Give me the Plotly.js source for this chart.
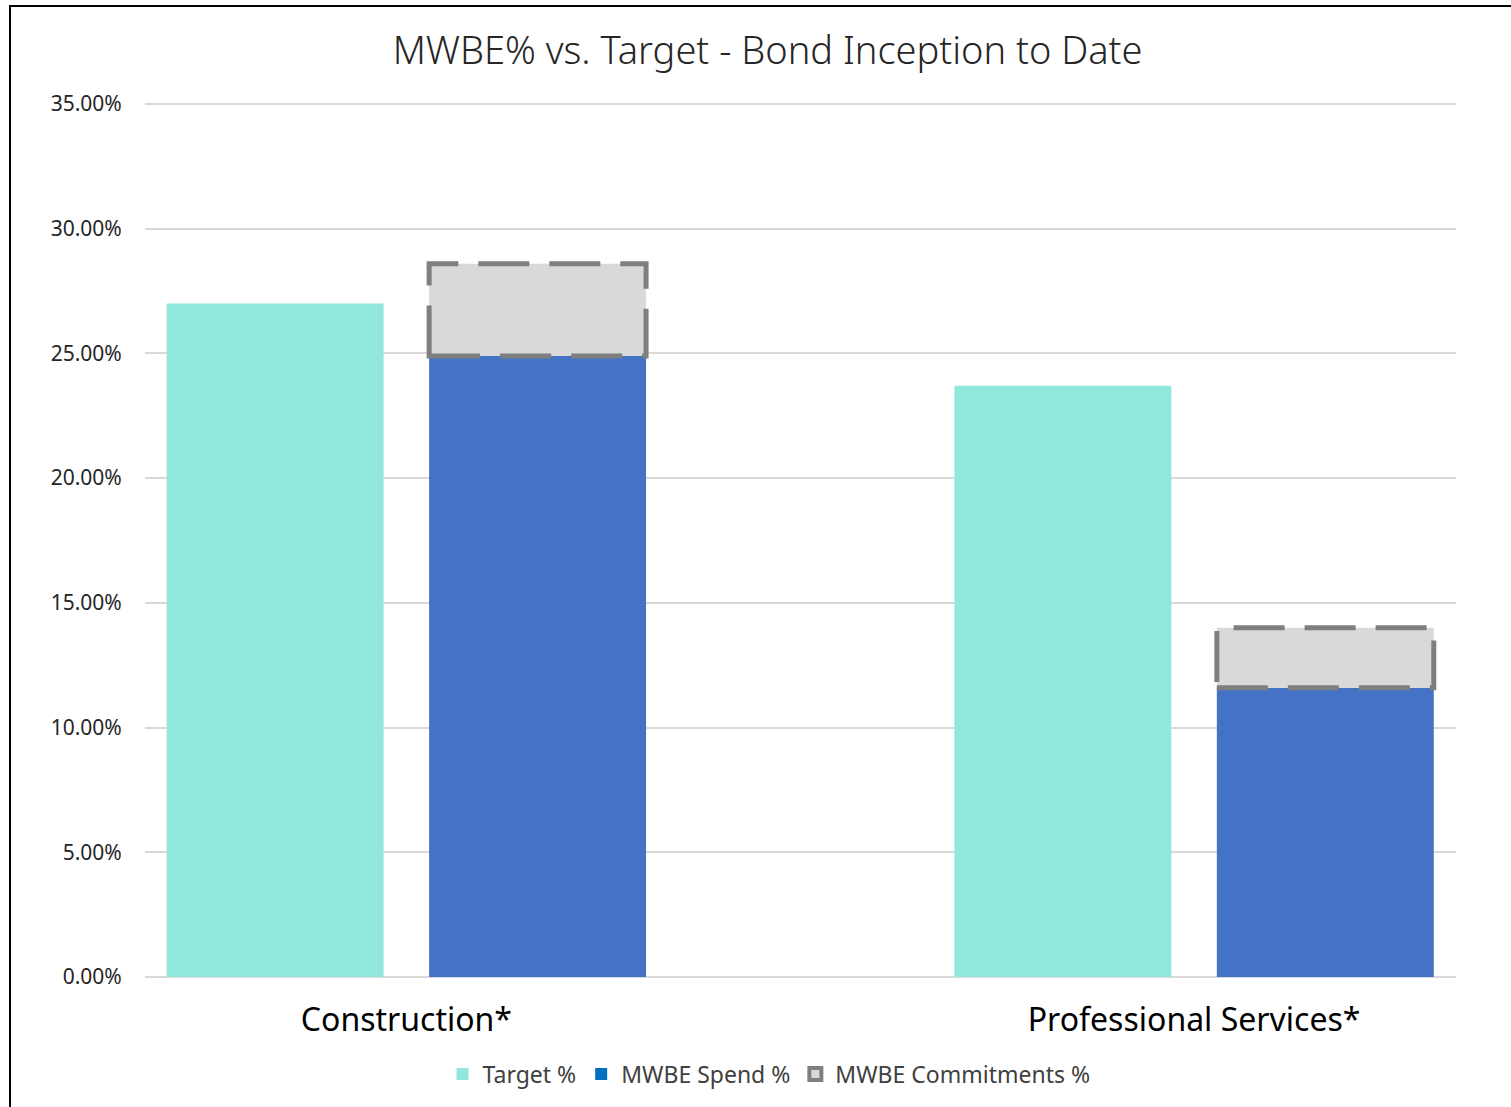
<!DOCTYPE html>
<html>
<head>
<meta charset="utf-8">
<script src="https://cdn.plot.ly/plotly-3.0.1.min.js"></script>
<style>
  html, body { margin: 0; padding: 0; background: #ffffff; }
  #wrap { position: relative; width: 1511px; height: 1107px; }
  #chart { position: absolute; left: 0; top: 0; width: 1511px; height: 1107px; }
  #frame { position: absolute; left: 9px; top: 5px; width: 1502px; height: 1102px;
           border-left: 2px solid #000; border-top: 2px solid #000; box-sizing: border-box; pointer-events: none; }
</style>
</head>
<body>
<div id="wrap">
  <div id="chart"></div>
  <div id="frame"></div>
</div>
<script>
// ---- data ----
const categories = ['Construction*', 'Professional Services*'];
const targetPct = [0.270, 0.237];
const spendPct = [0.249, 0.116];
const commitPct = [0.286, 0.140];
const seriesNames = ['Target %', 'MWBE Spend %', 'MWBE Commitments %'];
const yTicks = [0, 0.05, 0.10, 0.15, 0.20, 0.25, 0.30, 0.35];
const chartTitle = 'MWBE% vs. Target - Bond Inception to Date';

// ---- styles ----
const colTarget = '#91E7DB';
const colSpend = '#4472C4';
const colSpendLegend = '#0070C0';
const colCommitFill = '#D9D9D9';
const colCommitLine = '#7F7F7F';
const colGrid = '#D9D9D9';
const barWidth = 0.2754;
const offTarget = -0.3043;
const offSpend = 0.0289;
const font = '"Noto Sans", "Open Sans", sans-serif';

const commitExtra = commitPct.map((c, i) => c - spendPct[i]);
const yMax = yTicks[yTicks.length - 1];

const traces = [
  {
    type: 'bar', name: seriesNames[0], x: categories, y: targetPct,
    width: barWidth, offset: offTarget,
    marker: { color: colTarget, line: { width: 0 } },
    showlegend: true, hoverinfo: 'x+y'
  },
  {
    type: 'bar', name: seriesNames[1], x: categories, y: spendPct,
    width: barWidth, offset: offSpend,
    marker: { color: colSpend, line: { width: 0 } },
    showlegend: false
  },
  {
    type: 'bar', name: seriesNames[2], x: categories, y: commitExtra, base: spendPct,
    width: barWidth, offset: offSpend,
    marker: { color: colCommitFill, line: { width: 0 } },
    showlegend: false
  },
  // legend entries
  {
    type: 'bar', name: seriesNames[1], x: [null], y: [null],
    marker: { color: colSpendLegend }, showlegend: true, hoverinfo: 'skip'
  },
  {
    type: 'bar', name: seriesNames[2], x: [null], y: [null],
    marker: { color: colCommitFill, line: { color: colCommitLine, width: 4 } },
    showlegend: true, hoverinfo: 'skip'
  }
];

// dashed outline around commitment segments, derived from the data arrays
const shapes = categories.map((c, i) => ({
  type: 'rect', xref: 'x', yref: 'y',
  x0: i + offSpend, x1: i + offSpend + barWidth,
  y0: spendPct[i], y1: commitPct[i],
  line: { color: colCommitLine, width: 5, dash: '51px,20px' },
  fillcolor: 'rgba(0,0,0,0)', layer: 'above'
}));
// top gridline (Plotly skips the gridline that sits on the plot edge)
shapes.push({
  type: 'line', xref: 'paper', yref: 'y', x0: 0, x1: 1, y0: yMax, y1: yMax,
  line: { color: colGrid, width: 2 }, layer: 'below'
});

const layout = {
  width: 1511, height: 1107,
  margin: { l: 145, r: 55, t: 103, b: 130 },
  paper_bgcolor: '#ffffff', plot_bgcolor: '#ffffff',
  font: { family: font, color: '#262626' },
  title: {
    text: chartTitle,
    font: { family: font, size: 38, color: '#262626', weight: 300 },
    xref: 'container', x: 0.508, xanchor: 'center',
    yref: 'container', y: 0.954, yanchor: 'middle'
  },
  barmode: 'overlay',
  xaxis: {
    type: 'category',
    range: [-0.3318, 1.3325],
    showgrid: false, zeroline: false, showline: false,
    ticks: 'outside', ticklen: 15, tickcolor: 'rgba(0,0,0,0)',
    tickfont: { family: font, size: 32, color: '#000000' },
    fixedrange: true
  },
  yaxis: {
    range: [0, 0.3504], tickvals: yTicks, tickformat: '.2%',
    showgrid: true, gridcolor: colGrid, gridwidth: 2,
    zeroline: true, zerolinecolor: colGrid, zerolinewidth: 2,
    showline: false,
    ticks: 'outside', ticklen: 18, tickcolor: 'rgba(0,0,0,0)',
    tickfont: { family: font, size: 21, color: '#262626' },
    fixedrange: true
  },
  showlegend: true,
  legend: {
    orientation: 'h', x: 0.476, xanchor: 'center', y: -0.111, yanchor: 'middle',
    font: { family: font, size: 23, color: '#404040' },
    traceorder: 'normal', bgcolor: 'rgba(0,0,0,0)'
  },
  shapes: shapes
};

Plotly.newPlot('chart', traces, layout, { displayModeBar: false, staticPlot: true });
</script>
</body>
</html>
